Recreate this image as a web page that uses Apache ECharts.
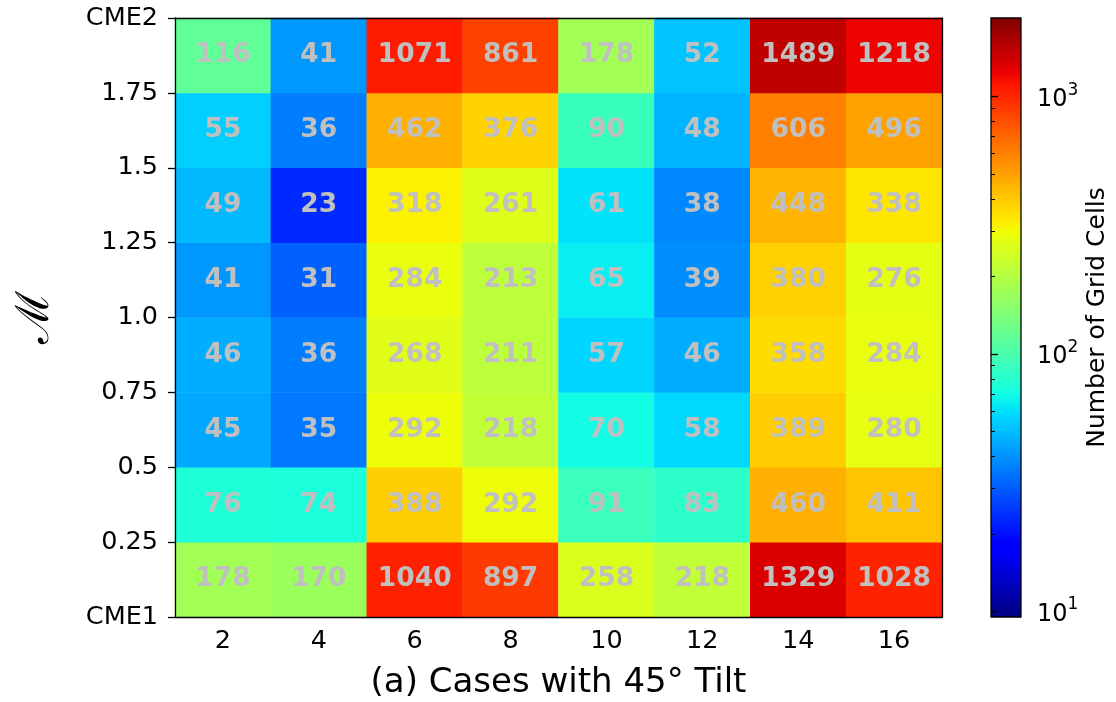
<!DOCTYPE html>
<html>
<head>
<meta charset="utf-8">
<script src="https://cdn.jsdelivr.net/npm/echarts@6/dist/echarts.min.js"></script>
<style>
  html, body { margin: 0; padding: 0; background: #fff; }
  #chart { width: 1116px; height: 702px; }
</style>
</head>
<body>
<div id="chart"></div>
<script>
// Cases along the x axis
const caseLabels = ['2', '4', '6', '8', '10', '12', '14', '16'];
// Boundaries of the M bands along the y axis
const yTickLabels = ['CME1', '0.25', '0.5', '0.75', '1.0', '1.25', '1.5', '1.75', 'CME2'];

// Number of grid cells per case, one array per M band (bottom band first)
const band0 = [178, 170, 1040, 897, 258, 218, 1329, 1028];
const band1 = [76, 74, 388, 292, 91, 83, 460, 411];
const band2 = [45, 35, 292, 218, 70, 58, 389, 280];
const band3 = [46, 36, 268, 211, 57, 46, 358, 284];
const band4 = [41, 31, 284, 213, 65, 39, 380, 276];
const band5 = [49, 23, 318, 261, 61, 38, 448, 338];
const band6 = [55, 36, 462, 376, 90, 48, 606, 496];
const band7 = [116, 41, 1071, 861, 178, 52, 1489, 1218];
const bands = [band0, band1, band2, band3, band4, band5, band6, band7];

// Log colour scale limits and colourbar ticks
const countMin = 9.5;
const countMax = 2020;
const majorTicks = [10, 100, 1000];
const minorTicks = [20, 30, 40, 50, 60, 70, 80, 90, 200, 300, 400, 500, 600, 700, 800, 900];

const FONT = 'DejaVu Sans';
const logMin = Math.log10(countMin);
const logMax = Math.log10(countMax);

// Jet colour map (piecewise linear channels)
const JET = {
  r: [[0, 0], [0.35, 0], [0.66, 1], [0.89, 1], [1, 0.5]],
  g: [[0, 0], [0.125, 0], [0.375, 1], [0.64, 1], [0.91, 0], [1, 0]],
  b: [[0, 0.5], [0.11, 1], [0.34, 1], [0.65, 0], [1, 0]]
};
function channel(segs, t) {
  for (let i = 1; i < segs.length; i++) {
    if (t <= segs[i][0]) {
      const [x0, y0] = segs[i - 1], [x1, y1] = segs[i];
      return y0 + (y1 - y0) * (t - x0) / (x1 - x0);
    }
  }
  return segs[segs.length - 1][1];
}
function jet(t) {
  const c = v => Math.round(Math.max(0, Math.min(1, v)) * 255);
  return 'rgb(' + c(channel(JET.r, t)) + ',' + c(channel(JET.g, t)) + ',' + c(channel(JET.b, t)) + ')';
}
const N_SAMPLES = 128;
const jetColors = [];
for (let i = 0; i < N_SAMPLES; i++) jetColors.push(jet(i / (N_SAMPLES - 1)));
// Colourbar gradient: top = highest count
const colorbarStops = jetColors.map((col, i) => ({ offset: 1 - i / (N_SAMPLES - 1), color: col }));

const cells = [];
bands.forEach((row, yi) => {
  row.forEach((count, xi) => {
    cells.push([xi, yi, count, Math.log10(count)]);
  });
});

const AXIS_LINE = { show: true, lineStyle: { color: '#000', width: 1.3 } };
const MAIN = { left: 175, top: 18, width: 767, height: 599, outerBoundsMode: 'none', containLabel: false };
const CBAR = { left: 991, top: 18, width: 30, height: 599, outerBoundsMode: 'none', containLabel: false };

const chart = echarts.init(document.getElementById('chart'), null, { renderer: 'canvas' });

chart.setOption({
  animation: false,
  backgroundColor: '#fff',
  textStyle: { fontFamily: FONT },
  grid: [
    Object.assign({ show: false }, MAIN),
    Object.assign({
      show: true,
      backgroundColor: { type: 'linear', x: 0, y: 0, x2: 0, y2: 1, colorStops: colorbarStops },
      borderColor: '#000',
      borderWidth: 1.3
    }, CBAR),
    Object.assign({ show: false }, CBAR)
  ],
  xAxis: [
    {
      gridIndex: 0, type: 'category', data: caseLabels, position: 'bottom', z: 10,
      name: '(a) Cases with 45° Tilt', nameLocation: 'middle', nameGap: 49,
      nameTextStyle: { fontSize: 34, color: '#000', fontFamily: FONT },
      axisLine: AXIS_LINE,
      axisTick: { alignWithLabel: true, length: 7, lineStyle: { color: '#000', width: 1.3 } },
      axisLabel: { fontSize: 25.5, color: '#000', margin: 11, fontFamily: FONT },
      splitLine: { show: false }
    },
    {
      gridIndex: 0, type: 'value', min: 0, max: 1, position: 'top', z: 10,
      axisLine: AXIS_LINE, axisTick: { show: false }, axisLabel: { show: false }, splitLine: { show: false }
    },
    { gridIndex: 1, type: 'value', min: 0, max: 1, show: false },
    { gridIndex: 2, type: 'value', min: 0, max: 1, show: false }
  ],
  yAxis: [
    {
      gridIndex: 0, type: 'value', min: 0, max: 2, interval: 0.25, position: 'left', z: 10,
      name: 'ℳ', nameLocation: 'middle', nameRotate: 90, nameGap: 116,
      nameTextStyle: { fontSize: 46, color: '#000', fontFamily: 'DejaVu Serif' },
      axisLine: AXIS_LINE,
      axisTick: { length: 7, lineStyle: { color: '#000', width: 1.3 } },
      axisLabel: {
        fontSize: 25.5, color: '#000', margin: 17, fontFamily: FONT,
        formatter: v => yTickLabels[Math.round(v / 0.25)]
      },
      splitLine: { show: false }
    },
    {
      gridIndex: 0, type: 'category', data: bands.map((_, i) => String(i)), position: 'right', z: 10,
      axisLine: AXIS_LINE, axisTick: { show: false }, axisLabel: { show: false }, splitLine: { show: false }
    },
    {
      gridIndex: 1, type: 'value', min: logMin, max: logMax, position: 'right', z: 10,
      name: 'Number of Grid Cells', nameLocation: 'middle', nameRotate: 90, nameGap: 64,
      nameTextStyle: { fontSize: 25, color: '#000', fontFamily: FONT },
      axisLine: { show: false },
      axisTick: {
        customValues: majorTicks.map(v => Math.log10(v)),
        length: 7, lineStyle: { color: '#000', width: 1.3 }
      },
      axisLabel: {
        customValues: majorTicks.map(v => Math.log10(v)),
        margin: 16,
        formatter: v => '{b|10}{s|' + Math.round(v) + '}',
        rich: {
          b: { fontSize: 24, color: '#000', fontFamily: FONT, lineHeight: 30, verticalAlign: 'bottom' },
          s: { fontSize: 17, color: '#000', fontFamily: FONT, lineHeight: 17, verticalAlign: 'top' }
        }
      },
      splitLine: { show: false }
    },
    {
      gridIndex: 2, type: 'value', min: logMin, max: logMax, position: 'right', z: 10,
      axisLine: { show: false },
      axisTick: {
        customValues: minorTicks.map(v => Math.log10(v)),
        length: 4, lineStyle: { color: '#000', width: 1 }
      },
      axisLabel: { show: false },
      splitLine: { show: false }
    }
  ],
  visualMap: {
    show: false,
    type: 'continuous',
    seriesIndex: 0,
    dimension: 3,
    min: logMin,
    max: logMax,
    inRange: { color: jetColors }
  },
  series: [
    {
      type: 'heatmap',
      xAxisIndex: 0,
      yAxisIndex: 1,
      data: cells,
      label: {
        show: true,
        formatter: p => String(p.value[2]),
        color: '#c0c0c0',
        fontSize: 26.5,
        fontWeight: 'bold',
        fontFamily: FONT
      },
      itemStyle: { borderWidth: 0 },
      emphasis: { disabled: true }
    }
  ]
});
</script>
</body>
</html>
